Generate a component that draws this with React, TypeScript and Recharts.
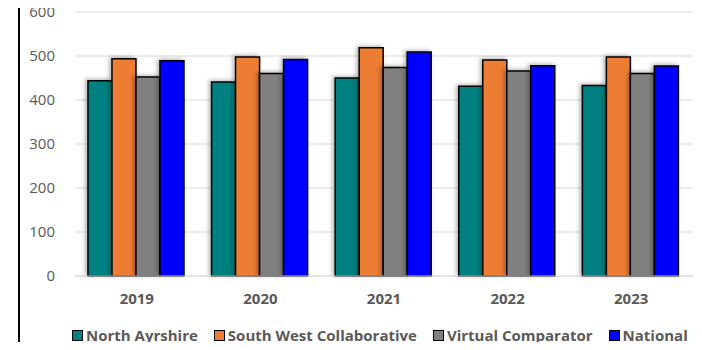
import { BarChart, Bar, XAxis, YAxis, CartesianGrid, Legend } from 'recharts';

const years = ['2019', '2020', '2021', '2022', '2023'];
const northAyrshire = [444, 441, 450, 431, 433];
const southWest = [494, 498, 519, 491, 498];
const virtualComparator = [452, 460, 474, 466, 460];
const national = [489, 492, 509, 478, 477];
const yTicks = [0, 100, 200, 300, 400, 500, 600];

const seriesInfo = [
  { key: 'northAyrshire', name: 'North Ayrshire', color: '#008080' },
  { key: 'southWest', name: 'South West Collaborative', color: '#ED7D31' },
  { key: 'virtualComparator', name: 'Virtual Comparator', color: '#808080' },
  { key: 'national', name: 'National', color: '#0000FF' },
];

const data = years.map((year, i) => ({
  year,
  northAyrshire: northAyrshire[i],
  southWest: southWest[i],
  virtualComparator: virtualComparator[i],
  national: national[i],
}));

const FONT = '"Open Sans", sans-serif';

const renderLegend = () => (
  <div
    style={{
      display: 'flex',
      gap: 16,
      fontFamily: FONT,
      fontWeight: 700,
      fontSize: 15,
      color: '#595959',
      whiteSpace: 'nowrap',
      lineHeight: '20px',
    }}
  >
    {seriesInfo.map((s) => (
      <div key={s.key} style={{ display: 'flex', alignItems: 'center', gap: 3 }}>
        <span
          style={{
            display: 'inline-block',
            width: 9,
            height: 9,
            background: s.color,
            border: '1.5px solid #000',
          }}
        />
        <span>{s.name}</span>
      </div>
    ))}
  </div>
);

const App = () => {
  return (
    <div style={{ margin: -8, width: 702, height: 350, position: 'relative', background: '#fff' }}>
      <div
        style={{
          position: 'absolute',
          left: 18,
          top: 0,
          width: 1.5,
          height: 350,
          background: '#000',
        }}
      />
      <BarChart
        width={702}
        height={350}
        data={data}
        margin={{ top: 12, right: 9, bottom: 8, left: 0 }}
        barCategoryGap="10.5%"
        barGap={0}
        style={{ overflow: 'visible' }}
      >
        <defs>
          <filter id="barShadow" x="-30%" y="-10%" width="160%" height="120%">
            <feDropShadow dx="-2" dy="-1" stdDeviation="2" floodColor="#000" floodOpacity="0.3" />
          </filter>
        </defs>
        <CartesianGrid vertical={false} stroke="#d9d9d9" strokeWidth={1.2} />
        <XAxis
          dataKey="year"
          axisLine={{ stroke: '#d9d9d9', strokeWidth: 1.2 }}
          tickLine={false}
          tickMargin={11}
          height={36}
          tick={{ fontSize: 15, fontFamily: FONT, fontWeight: 700, fill: '#595959' }}
        />
        <YAxis
          domain={[0, 600]}
          ticks={yTicks}
          axisLine={false}
          tickLine={false}
          tickSize={0}
          tickMargin={20}
          width={75}
          tick={{ fontSize: 15, fontFamily: FONT, fill: '#595959' }}
        />
        <Legend
          verticalAlign="bottom"
          height={30}
          content={renderLegend}
          wrapperStyle={{ top: 325, left: 72, bottom: 'auto', width: 628 }}
        />
        {seriesInfo.map((s) => (
          <Bar
            key={s.key}
            dataKey={s.key}
            name={s.name}
            fill={s.color}
            stroke="#000"
            strokeWidth={1.5}
            isAnimationActive={false}
            style={{ filter: 'url(#barShadow)' }}
          />
        ))}
      </BarChart>
    </div>
  );
};

export default App;
